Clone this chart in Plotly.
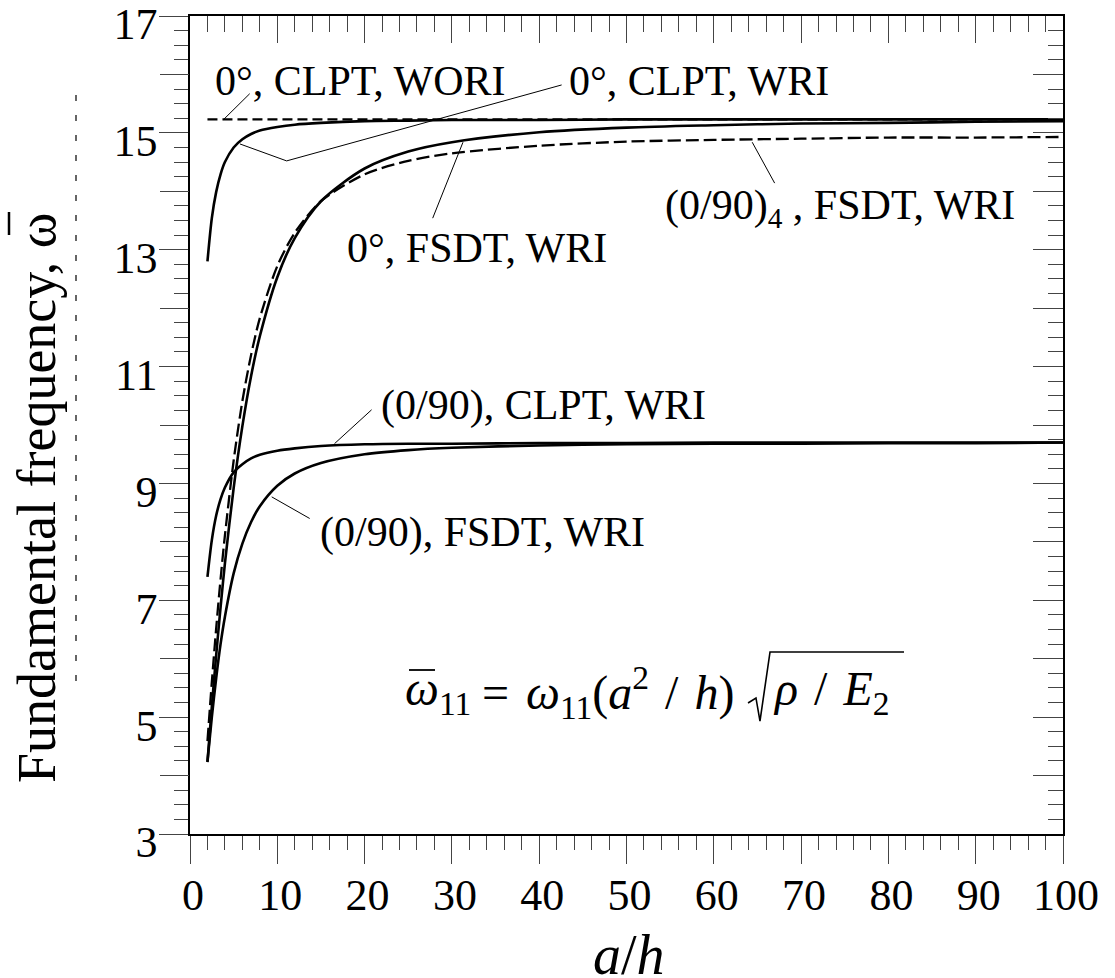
import plotly.graph_objects as go

# ---- data ----
a_h = [2, 2.5, 3, 3.5, 4, 5, 6, 7, 8, 10, 12, 15, 20, 25, 30, 40, 50, 60, 70, 80, 90, 100]

clpt0_wri = [12.80, 13.54, 13.99, 14.29, 14.50, 14.75, 14.89, 14.98, 15.04, 15.10, 15.14,
             15.17, 15.20, 15.21, 15.22, 15.22, 15.23, 15.23, 15.23, 15.23, 15.23, 15.23]
fsdt0_wri = [4.23, 5.18, 6.06, 6.88, 7.63, 8.92, 9.98, 10.84, 11.52, 12.53, 13.20,
             13.83, 14.39, 14.68, 14.84, 15.01, 15.09, 15.13, 15.16, 15.17, 15.19, 15.20]
fsdt_0904_wri = [4.59, 5.60, 6.52, 7.36, 8.11, 9.39, 10.41, 11.20, 11.83, 12.72, 13.29,
                 13.83, 14.29, 14.52, 14.65, 14.78, 14.85, 14.88, 14.90, 14.92, 14.92, 14.93]
clpt_090_wri = [7.40, 8.03, 8.45, 8.73, 8.93, 9.19, 9.33, 9.43, 9.49, 9.56, 9.60,
                9.64, 9.67, 9.68, 9.68, 9.69, 9.69, 9.70, 9.70, 9.70, 9.70, 9.70]
fsdt_090_wri = [4.24, 5.00, 5.67, 6.25, 6.72, 7.46, 7.97, 8.34, 8.61, 8.96, 9.17,
                9.35, 9.50, 9.57, 9.61, 9.65, 9.67, 9.68, 9.68, 9.69, 9.69, 9.70]
wori_x = [2, 100]
clpt0_wori = [15.23, 15.23]

y_label_vals = [3, 5, 7, 9, 11, 13, 15, 17]
y_even_vals = [4, 6, 8, 10, 12, 14, 16]
y_all_vals = list(range(3, 18))
x_tickvals = list(range(0, 101, 10))

# curve labels: (text, x, y, anchor) in data units
labels = [
    ("0°, CLPT, WORI", 2.6, 15.88, "left"),
    ("0°, CLPT, WRI", 73.4, 15.89, "right"),
    ("0°, FSDT, WRI", 17.8, 13.03, "left"),
    ("(0/90)<sub>4</sub> , FSDT, WRI", 54.2, 13.72, "left"),
    ("(0/90), CLPT, WRI", 21.6, 10.33, "left"),
    ("(0/90), FSDT, WRI", 14.7, 8.16, "left"),
]
# leader lines (polylines in data units)
leaders = [
    [(3.86, 15.23), (6.84, 15.67)],
    [(5.72, 14.81), (11.07, 14.52), (42.57, 15.82)],
    [(31.27, 14.84), (27.8, 13.54)],
    [(64.4, 14.84), (66.97, 14.14)],
    [(16.55, 9.68), (20.8, 10.26)],
    [(9.36, 8.77), (13.71, 8.40)],
]

SERIF = "Liberation Serif"
BLACK = "black"
GAP = "\u00a0\u200a/\u200a\u00a0"

# plot-area geometry (pixels) used to place decorations in paper units
L, R, T, B = 190, 1063, 16, 834


def px(xp):
    return (xp - L) / (R - L)


def py(yp):
    return (B - yp) / (B - T)


fig = go.Figure()
LW = 2.6
fig.add_trace(go.Scatter(x=wori_x, y=clpt0_wori, mode="lines",
                         line=dict(color=BLACK, width=LW - 0.3, dash="10px,5px")))
fig.add_trace(go.Scatter(x=a_h, y=clpt0_wri, mode="lines",
                         line=dict(color=BLACK, width=LW, shape="spline", smoothing=0.8)))
fig.add_trace(go.Scatter(x=a_h, y=fsdt0_wri, mode="lines",
                         line=dict(color=BLACK, width=LW, shape="spline", smoothing=0.8)))
fig.add_trace(go.Scatter(x=a_h, y=fsdt_0904_wri, mode="lines",
                         line=dict(color=BLACK, width=LW - 0.3, dash="13px,5px", shape="spline", smoothing=0.8)))
fig.add_trace(go.Scatter(x=a_h, y=clpt_090_wri, mode="lines",
                         line=dict(color=BLACK, width=LW, shape="spline", smoothing=0.8)))
fig.add_trace(go.Scatter(x=a_h, y=fsdt_090_wri, mode="lines",
                         line=dict(color=BLACK, width=LW, shape="spline", smoothing=0.8)))
# invisible traces on secondary axes so they render
fig.add_trace(go.Scatter(x=[0], y=[3], xaxis="x2", yaxis="y2", mode="markers",
                         marker=dict(opacity=0), hoverinfo="skip"))
fig.add_trace(go.Scatter(x=[0], y=[3], xaxis="x", yaxis="y3", mode="markers",
                         marker=dict(opacity=0), hoverinfo="skip"))

shapes = []
for pts in leaders:
    for (x0, y0), (x1, y1) in zip(pts[:-1], pts[1:]):
        shapes.append(dict(type="line", xref="x", yref="y", x0=x0, y0=y0, x1=x1, y1=y1,
                           line=dict(color=BLACK, width=1)))

# radical sign of the formula
rad = [(748, 703), (756, 698), (760, 721), (770, 652), (904, 652)]
path = "M " + " L ".join(f"{px(a):.4f},{py(b):.4f}" for a, b in rad)
shapes.append(dict(type="path", xref="paper", yref="paper", path=path,
                   line=dict(color=BLACK, width=1.6)))
# bar over omega in formula
shapes.append(dict(type="line", xref="paper", yref="paper", x0=px(409), x1=px(435),
                   y0=py(670), y1=py(670), line=dict(color=BLACK, width=1.8)))
# bar over omega in y title
shapes.append(dict(type="line", xref="paper", yref="paper", x0=px(9), x1=px(9),
                   y0=py(235), y1=py(212), line=dict(color=BLACK, width=2.5)))
# faint dashed trace left of the y title, as in the picture
shapes.append(dict(type="line", xref="paper", yref="paper", x0=px(76), x1=px(76),
                   y0=py(95), y1=py(690), line=dict(color=BLACK, width=1.2, dash="6px,14px")))

annotations = []
for txt, x, y, anc in labels:
    annotations.append(dict(text=txt, x=x, y=y, xref="x", yref="y", showarrow=False,
                            xanchor=anc, yanchor="middle",
                            font=dict(family=SERIF, size=42, color=BLACK)))

FS = 48
FY = py(692)
annotations.append(dict(text="<i>ω</i><sub>11</sub>", x=px(403), y=FY, xref="paper", yref="paper",
                        showarrow=False, xanchor="left", yanchor="middle",
                        font=dict(family=SERIF, size=FS, color=BLACK)))
annotations.append(dict(text="=", x=px(495), y=FY, xref="paper", yref="paper",
                        showarrow=False, xanchor="center", yanchor="middle",
                        font=dict(family=SERIF, size=FS, color=BLACK)))
annotations.append(dict(text="<i>ω</i><sub>11</sub>(<i>a</i><sup>2</sup>" + GAP + "<i>h</i>)",
                        x=px(736), y=FY, xref="paper", yref="paper", showarrow=False,
                        xanchor="right", yanchor="middle",
                        font=dict(family=SERIF, size=FS, color=BLACK)))
annotations.append(dict(text="<i>ρ</i>" + GAP + "<i>E</i><sub>2</sub>",
                        x=px(771), y=FY, xref="paper", yref="paper", showarrow=False,
                        xanchor="left", yanchor="middle",
                        font=dict(family=SERIF, size=FS, color=BLACK)))
# axis titles
annotations.append(dict(text="Fundamental frequency, ω", x=px(37), y=py(498),
                        xref="paper", yref="paper", showarrow=False, textangle=-90,
                        xanchor="center", yanchor="middle",
                        font=dict(family=SERIF, size=54, color=BLACK)))
annotations.append(dict(text="<i>a</i>/<i>h</i>", x=px(629), y=py(955),
                        xref="paper", yref="paper", showarrow=False,
                        xanchor="center", yanchor="middle",
                        font=dict(family=SERIF, size=56, color=BLACK)))

TICKC = "#444"
common_minor_y = dict(dtick=0.25, tick0=3, tickcolor=TICKC, tickwidth=1, showgrid=False)
fig.update_layout(
    width=1115, height=978,
    margin=dict(l=L, r=1115 - R, t=T, b=978 - B, autoexpand=False),
    paper_bgcolor="white", plot_bgcolor="white",
    showlegend=False,
    shapes=shapes, annotations=annotations,
    xaxis=dict(range=[0, 100], tickvals=x_tickvals, ticks="outside", ticklen=28,
               tickwidth=1.3, tickcolor=TICKC, showline=True, linecolor=BLACK, linewidth=1.5,
               showgrid=False, zeroline=False, ticklabelstandoff=-7, ticklabelshift=3,
               ticklabeloverflow="allow",
               tickfont=dict(family=SERIF, size=44, color=BLACK),
               minor=dict(ticks="outside", ticklen=14, dtick=2, tick0=0, tickcolor=TICKC,
                          tickwidth=1, showgrid=False)),
    xaxis2=dict(range=[0, 100], overlaying="x", matches="x", side="top", anchor="y",
                tickvals=x_tickvals, ticks="inside", ticklen=27, tickwidth=1.3, tickcolor=TICKC,
                showline=True, linecolor=BLACK, linewidth=1.5, showticklabels=False,
                showgrid=False, zeroline=False,
                minor=dict(ticks="inside", ticklen=16, dtick=2, tick0=0, tickcolor=TICKC,
                           tickwidth=1, showgrid=False)),
    yaxis=dict(range=[3, 17], tickvals=y_label_vals, ticks="outside",
               ticklen=29, tickwidth=1.3, tickcolor=TICKC, showline=True, linecolor=BLACK,
               linewidth=1.5, showgrid=False, zeroline=False, ticklabelstandoff=-7,
               ticklabelshift=8, ticklabeloverflow="allow",
               tickfont=dict(family=SERIF, size=44, color=BLACK),
               minor=dict(ticks="outside", ticklen=14, **common_minor_y)),
    yaxis3=dict(range=[3, 17], overlaying="y", matches="y", side="left", anchor="x",
                tickvals=y_even_vals, ticks="outside", ticklen=29, tickwidth=1.3,
                tickcolor=TICKC, showline=False, showticklabels=False,
                showgrid=False, zeroline=False),
    yaxis2=dict(range=[3, 17], overlaying="y", matches="y", side="right", anchor="x",
                tickvals=y_all_vals, ticks="inside", ticklen=30, tickwidth=1.3, tickcolor=TICKC,
                showline=True, linecolor=BLACK, linewidth=1.5, showticklabels=False,
                showgrid=False, zeroline=False,
                minor=dict(ticks="inside", ticklen=15, **common_minor_y)),
)

fig.write_html("out.html")
